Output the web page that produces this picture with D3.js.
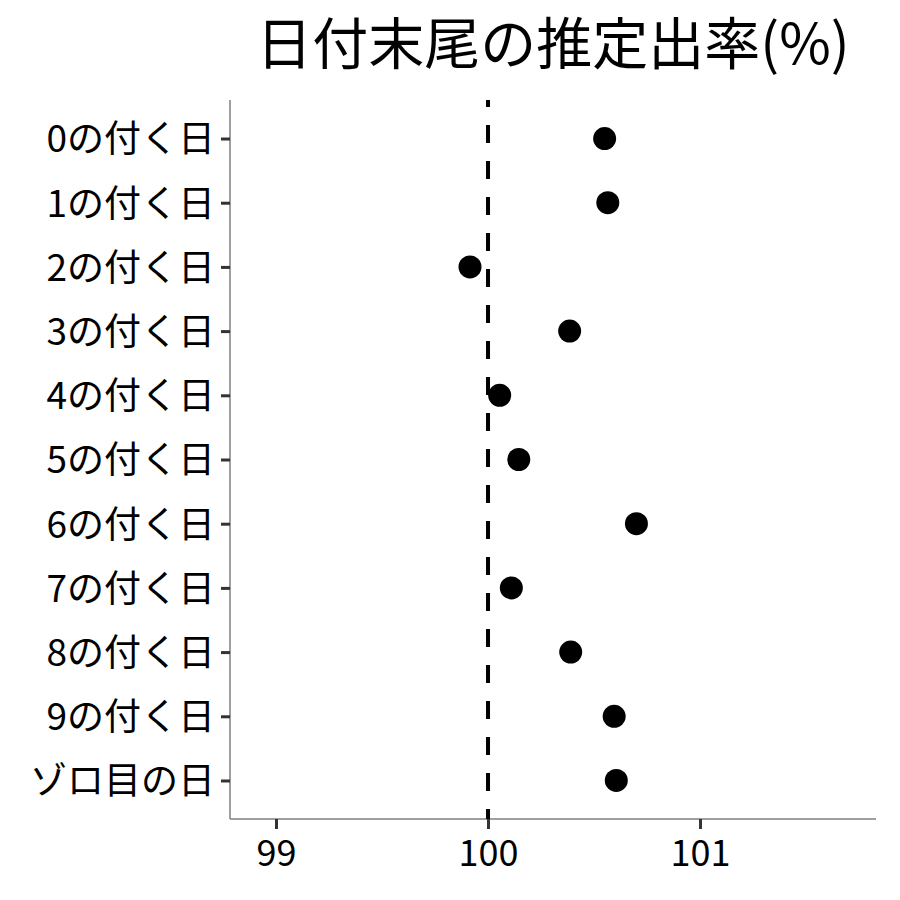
<!DOCTYPE html>
<html lang="ja">
	<head>
		<meta charset="utf-8">
		<title>日付末尾の推定出率</title>
		<script src="https://cdn.jsdelivr.net/npm/d3@7"></script>
		<style>
		body{
			margin: 0;
			background-color: #ffffff;
		}
		svg{
			display: block;
		}
		text{
			font-family: "Noto Sans CJK JP", "Noto Sans", sans-serif;
		}
		</style>
	</head>
	<body>
		<script>

			//data
			var categories = ["0の付く日", "1の付く日", "2の付く日", "3の付く日", "4の付く日",
							  "5の付く日", "6の付く日", "7の付く日", "8の付く日", "9の付く日", "ゾロ目の日"];
			var rates = [100.55, 100.565, 99.915, 100.385, 100.055, 100.145, 100.70, 100.11, 100.39, 100.595, 100.605];
			var xTicks = [99, 100, 101];
			var refValue = 100;
			var title = "日付末尾の推定出率(%)";

			//size and panel (top/left would clash with window globals, so prefixed)
			var w = 900;
			var h = 900;
			var pLeft = 230, pRight = 876, pTop = 100, pBottom = 819;

			var svg = d3.select("body")
						.append("svg")
						.attr("width", w)
						.attr("height", h);

			var x = d3.scaleLinear()
					  .domain([98.783, 101.83])
					  .range([pLeft, pRight]);

			var y = d3.scalePoint()
					  .domain(categories)
					  .range([pTop, pBottom])
					  .padding(0.6);

			//title
			svg.append("text")
			   .attr("x", (pLeft + pRight) / 2)
			   .attr("y", 64)
			   .attr("text-anchor", "middle")
			   .attr("font-size", "56px")
			   .attr("fill", "#000")
			   .text(title);

			//x axis
			var xAxis = svg.append("g")
						   .attr("transform", "translate(0," + pBottom + ")")
						   .call(d3.axisBottom(x).tickValues(xTicks).tickSize(10).tickPadding(11).tickFormat(d3.format("d")));
			xAxis.select(".domain").attr("stroke", "#7f7f7f").attr("stroke-width", 1.5).attr("d", "M" + pLeft + ",0H" + pRight);
			xAxis.selectAll(".tick line").attr("stroke", "#333").attr("stroke-width", 3);
			xAxis.selectAll(".tick text")
				 .attr("font-size", "36px")
				 .attr("fill", "#000")
				 .attr("font-family", "'Noto Sans CJK JP', sans-serif");

			//y axis
			var yAxis = svg.append("g")
						   .attr("transform", "translate(" + pLeft + ",0)")
						   .call(d3.axisLeft(y).tickSize(9).tickPadding(6));
			yAxis.select(".domain").attr("stroke", "#7f7f7f").attr("stroke-width", 1.5).attr("d", "M0," + pTop + "V" + pBottom);
			yAxis.selectAll(".tick line").attr("stroke", "#333").attr("stroke-width", 3);
			yAxis.selectAll(".tick text")
				 .attr("font-size", "37px")
				 .attr("fill", "#000")
				 .attr("font-family", "'Noto Sans CJK JP', sans-serif")
				 .attr("dy", "0.36em");

			//reference line
			svg.append("line")
			   .attr("x1", x(refValue))
			   .attr("x2", x(refValue))
			   .attr("y1", pTop)
			   .attr("y2", pBottom)
			   .attr("stroke", "#000")
			   .attr("stroke-width", 4)
			   .attr("stroke-dasharray", "18,18")
			   .attr("stroke-dashoffset", 11);

			//points
			svg.selectAll("circle.pt")
			   .data(rates)
			   .enter()
			   .append("circle")
			   .attr("class", "pt")
			   .attr("cx", function(d) { return x(d); })
			   .attr("cy", function(d, i) { return y(categories[i]); })
			   .attr("r", 11.5)
			   .attr("fill", "#000");

		</script>
	</body>
</html>
